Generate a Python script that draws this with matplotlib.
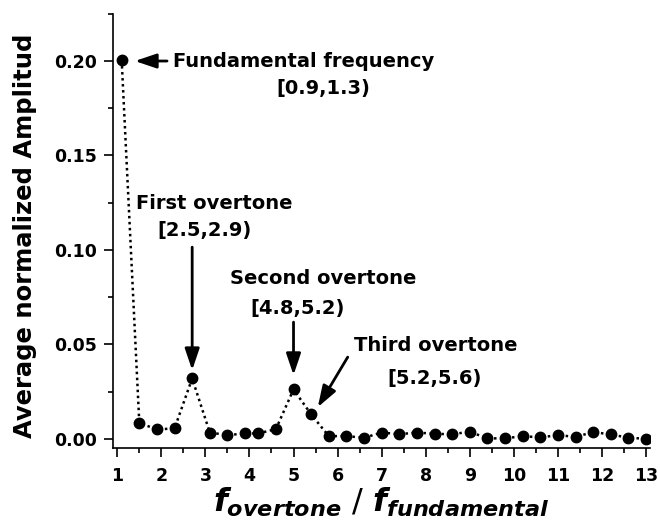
import numpy as np
import matplotlib
matplotlib.use('Agg')
import matplotlib.pyplot as plt
from matplotlib.ticker import MultipleLocator

# ratio f_overtone / f_fundamental (bin centres)
ratio = [1.1, 1.5, 1.9, 2.3, 2.7, 3.1, 3.5, 3.9, 4.2, 4.6,
         5.0, 5.4, 5.8, 6.2, 6.6, 7.0, 7.4, 7.8, 8.2, 8.6,
         9.0, 9.4, 9.8, 10.2, 10.6, 11.0, 11.4, 11.8, 12.2, 12.6, 13.0]
# average normalized amplitude
amplitude = [0.2005, 0.0085, 0.0050, 0.0056, 0.0320, 0.0034, 0.0020, 0.0029, 0.0029, 0.0052,
             0.0262, 0.0130, 0.0015, 0.0015, 0.0006, 0.0034, 0.0025, 0.0034, 0.0027, 0.0025,
             0.0038, 0.0003, 0.0003, 0.0015, 0.0008, 0.0020, 0.0011, 0.0036, 0.0024, 0.0006, 0.0001]

x_ticks = list(range(1, 14))
y_ticks = [0.00, 0.05, 0.10, 0.15, 0.20]

plt.rcParams['font.family'] = ['DejaVu Sans']
plt.rcParams['font.weight'] = 'bold'
plt.rcParams['mathtext.fontset'] = 'custom'
plt.rcParams['mathtext.it'] = 'DejaVu Sans:italic:bold'
plt.rcParams['mathtext.rm'] = 'DejaVu Sans:bold'

fig = plt.figure(figsize=(6.6, 5.3), dpi=100)
ax = fig.add_axes([0.171, 0.154, 0.8145, 0.82])

# dotted line + dots
ax.plot(ratio, amplitude, color='black', lw=1.8, linestyle=(0, (1, 1.4)),
        marker='o', markersize=7.5)

ax.set_xlim(0.9, 13.1)
ax.set_ylim(-0.005, 0.225)
ax.set_xticks(x_ticks)
ax.set_yticks(y_ticks)
ax.set_yticklabels(['%.2f' % v for v in y_ticks])
ax.xaxis.set_minor_locator(MultipleLocator(0.5))
ax.yaxis.set_minor_locator(MultipleLocator(0.025))
ax.tick_params(which='major', direction='out', length=6.5, width=1.2, labelsize=12.5, pad=5)
ax.tick_params(axis='x', which='major', pad=7)
ax.tick_params(which='minor', direction='out', length=3.5, width=1.2)
for lbl in ax.get_xticklabels() + ax.get_yticklabels():
    lbl.set_fontweight('bold')

ax.spines['top'].set_visible(False)
ax.spines['right'].set_visible(False)
ax.spines['left'].set_linewidth(1.2)
ax.spines['bottom'].set_linewidth(1.2)

ax.set_ylabel('Average normalized Amplitud', fontsize=17.5, fontweight='bold')
ax.yaxis.set_label_coords(-0.142, 0.49)
ax.set_xlabel(r'$f_{overtone}$ / $f_{fundamental}$', fontsize=23, labelpad=0)

# annotations
arrow = dict(arrowstyle='-|>,head_length=0.65,head_width=0.22', color='black',
             lw=2, shrinkA=0, shrinkB=0, mutation_scale=20)
txt = dict(fontsize=14, fontweight='bold', va='center')

ax.annotate('', xy=(1.40, 0.2), xytext=(2.13, 0.2), arrowprops=arrow)
ax.text(2.26, 0.2, 'Fundamental frequency', ha='left', **txt)
ax.text(4.62, 0.1857, '[0.9,1.3)', ha='left', **txt)

ax.text(3.19, 0.1248, 'First overtone', ha='center', **txt)
ax.text(2.97, 0.1105, '[2.5,2.9)', ha='center', **txt)
ax.annotate('', xy=(2.7, 0.0364), xytext=(2.7, 0.1015), arrowprops=arrow)

ax.text(5.67, 0.0851, 'Second overtone', ha='center', **txt)
ax.text(5.10, 0.0692, '[4.8,5.2)', ha='center', **txt)
ax.annotate('', xy=(5.0, 0.0338), xytext=(5.0, 0.0618), arrowprops=arrow)

ax.text(8.23, 0.0497, 'Third overtone', ha='center', **txt)
ax.text(8.20, 0.0322, '[5.2,5.6)', ha='center', **txt)
ax.annotate('', xy=(5.55, 0.0168), xytext=(6.23, 0.0433), arrowprops=arrow)

fig.savefig('out.png', dpi=100)
